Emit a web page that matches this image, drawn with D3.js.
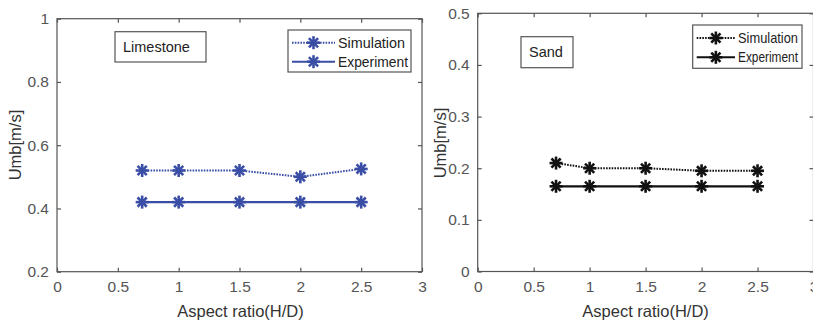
<!DOCTYPE html>
<html><head><meta charset="utf-8">
<script src="https://cdn.jsdelivr.net/npm/d3@7"></script>
<style>body{margin:0;background:#fff}svg{display:block}text{font-family:"Liberation Sans",Arial,sans-serif}</style>
</head><body>
<svg id="c" width="813" height="321"></svg>
<script>
const aspectRatios = [0.7, 1, 1.5, 2, 2.5];
const limestoneSimulation = [0.52, 0.52, 0.52, 0.50, 0.525];
const limestoneExperiment = [0.42, 0.42, 0.42, 0.42, 0.42];
const sandSimulation = [0.21, 0.20, 0.20, 0.195, 0.195];
const sandExperiment = [0.165, 0.165, 0.165, 0.165, 0.165];
const xTicks = [0, 0.5, 1, 1.5, 2, 2.5, 3];
const limestoneYTicks = [0.2, 0.4, 0.6, 0.8, 1];
const sandYTicks = [0, 0.1, 0.2, 0.3, 0.4, 0.5];
const seriesNames = ["Simulation", "Experiment"];

const svg = d3.select("#c");

function star(g, x, y, color, r) {
  for (let a = 0; a < 4; a++) {
    const ang = a * Math.PI / 4;
    g.append("line")
      .attr("x1", x - r * Math.cos(ang)).attr("y1", y - r * Math.sin(ang))
      .attr("x2", x + r * Math.cos(ang)).attr("y2", y + r * Math.sin(ang))
      .attr("stroke", color).attr("stroke-width", 2.6);
  }
}

function panel(o) {
  const g = svg.append("g");
  const x = d3.scaleLinear().domain([0, 3]).range([o.left, o.right]);
  const y = d3.scaleLinear().domain(o.yDomain).range([o.bottom, o.top]);
  const axisColor = "#555";
  g.append("rect").attr("x", o.left).attr("y", o.top)
    .attr("width", o.right - o.left).attr("height", o.bottom - o.top)
    .attr("fill", "none").attr("stroke", axisColor).attr("stroke-width", 1.2);
  const ax = g.append("g").attr("transform", `translate(0,${o.bottom})`)
    .call(d3.axisBottom(x).tickValues(xTicks).tickSize(-4).tickPadding(9).tickFormat(d3.format("")));
  const axT = g.append("g").attr("transform", `translate(0,${o.top})`)
    .call(d3.axisTop(x).tickValues(xTicks).tickSize(-4).tickFormat(""));
  const ay = g.append("g").attr("transform", `translate(${o.left},0)`)
    .call(d3.axisLeft(y).tickValues(o.yTicks).tickSize(-4).tickPadding(8).tickFormat(d3.format("")));
  const ayR = g.append("g").attr("transform", `translate(${o.right},0)`)
    .call(d3.axisRight(y).tickValues(o.yTicks).tickSize(-4).tickFormat(""));
  [ax, axT, ay, ayR].forEach(a => {
    a.select(".domain").remove();
    a.selectAll(".tick line").attr("stroke", axisColor).attr("stroke-width", 1.2);
    a.selectAll(".tick text").attr("fill", "#555").style("font-size", "15.5px");
  });
  g.append("text").attr("x", (o.left + o.right) / 2 + o.xLabelShift).attr("y", 317)
    .attr("text-anchor", "middle").attr("fill", "#333").style("font-size", "16.5px")
    .text("Aspect ratio(H/D)");
  g.append("text").attr("transform", `translate(${o.yLabelX},${o.yLabelY}) rotate(-90)`)
    .attr("text-anchor", "middle").attr("fill", "#333").style("font-size", "16.5px")
    .text("Umb[m/s]");
  const line = d3.line().x((d, i) => x(aspectRatios[i])).y(d => y(d));
  g.append("path").attr("d", line(o.sim)).attr("fill", "none").attr("stroke", o.color)
    .attr("stroke-width", 2).attr("stroke-dasharray", "1.6,1.2");
  g.append("path").attr("d", line(o.exp)).attr("fill", "none").attr("stroke", o.color)
    .attr("stroke-width", 2.2);
  o.sim.forEach((v, i) => star(g, x(aspectRatios[i]), y(v), o.color, 6.5));
  o.exp.forEach((v, i) => star(g, x(aspectRatios[i]), y(v), o.color, 6.5));
  const tb = o.titleBox;
  g.append("rect").attr("x", tb[0]).attr("y", tb[1]).attr("width", tb[2]).attr("height", tb[3])
    .attr("fill", "#fff").attr("stroke", "#555").attr("stroke-width", 1.2);
  g.append("text").attr("x", tb[0] + 8).attr("y", tb[1] + tb[3] / 2 + 5)
    .attr("fill", "#222").style("font-size", "14.5px").text(o.title);
  const lb = o.legendBox;
  g.append("rect").attr("x", lb[0]).attr("y", lb[1]).attr("width", lb[2]).attr("height", lb[3])
    .attr("fill", "#fff").attr("stroke", "#555").attr("stroke-width", 1.2);
  seriesNames.forEach((nm, i) => {
    const yy = lb[1] + o.legendRows[i];
    const l = g.append("line").attr("x1", lb[0] + 4).attr("x2", lb[0] + o.legendLine)
      .attr("y1", yy).attr("y2", yy).attr("stroke", o.color).attr("stroke-width", 2);
    if (i === 0) l.attr("stroke-dasharray", "1.6,1.2");
    star(g, lb[0] + 4 + (o.legendLine - 4) / 2, yy, o.color, 6.5);
    g.append("text").attr("x", lb[0] + o.legendLine + 3).attr("y", yy + 5)
      .attr("fill", "#222").style("font-size", "14.5px")
      .attr("textLength", o.textLen[i]).attr("lengthAdjust", "spacingAndGlyphs").text(nm);
  });
}

panel({
  left: 57, right: 422, top: 18.7, bottom: 271.7,
  yDomain: [0.2, 1], yTicks: limestoneYTicks,
  sim: limestoneSimulation, exp: limestoneExperiment, color: "#3a4ea6",
  title: "Limestone", titleBox: [115, 31.7, 91, 30.3],
  legendBox: [288, 30, 123, 42], legendRows: [12.7, 31.7], legendLine: 47,
  textLen: [67, 70],
  xLabelShift: 1, yLabelX: 21, yLabelY: 145
});
panel({
  left: 477.7, right: 813.5, top: 13.3, bottom: 271.5,
  yDomain: [0, 0.5], yTicks: sandYTicks,
  sim: sandSimulation, exp: sandExperiment, color: "#111",
  title: "Sand", titleBox: [521, 36.7, 52, 31],
  legendBox: [692.7, 25, 109.3, 43.3], legendRows: [13, 32.3], legendLine: 42.3,
  textLen: [60, 60],
  xLabelShift: 0, yLabelX: 446, yLabelY: 143
});
</script>
</body></html>
